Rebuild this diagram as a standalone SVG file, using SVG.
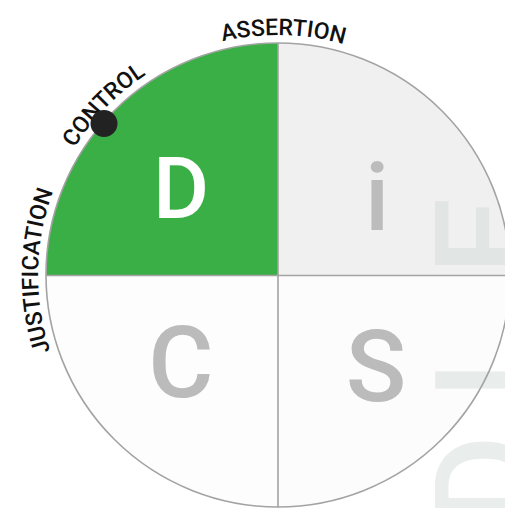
<svg xmlns="http://www.w3.org/2000/svg" width="505" height="508" viewBox="0 0 505 508">
  <style>
    .lbl { font-family: Roboto, "Liberation Sans", sans-serif; font-weight: 500; font-size: 23px; fill: #111; }
    .big { font-family: Roboto, "Liberation Sans", sans-serif; font-weight: 500; text-anchor: middle; }
    .ghost { font-family: Roboto, "Liberation Sans", sans-serif; font-weight: 500; font-size: 138px; fill: #cfd6d3; fill-opacity: 0.45; text-anchor: middle; }
    .rule { stroke: #a3a3a3; stroke-width: 1.6; fill: none; }
  </style>
  <defs>
    <path id="arcAssertion" d="M112.2,101.5 A240,240 0 0 1 451.5,109.2"/>
    <path id="arcControl" d="M38,277.9 A240,240 0 0 1 275.1,35"/>
    <path id="arcJustification" d="M105.4,441.7 A240,240 0 0 1 111.3,102.4"/>
  </defs>
  <rect width="505" height="508" fill="#ffffff"/>

  <g id="quadrants">
    <g id="quadrant-i"><path d="M278,275 L278,43 A232,232 0 0 1 510,275 Z" fill="#f0f0f0"/></g>
    <g id="quadrant-s"><path d="M278,275 L510,275 A232,232 0 0 1 278,507 Z" fill="#fcfcfc"/></g>
    <g id="quadrant-c"><path d="M278,275 L278,507 A232,232 0 0 1 46,275 Z" fill="#fdfdfd"/></g>
    <g id="quadrant-d"><path d="M278,275 L46,275 A232,232 0 0 1 278,43 Z" fill="#3aaf45"/></g>
  </g>

  <g id="ghost-letters">
    <text class="ghost" transform="translate(533,480) rotate(-90)">D</text>
    <text class="ghost" transform="translate(533,380) rotate(-90)">I</text>
    <text class="ghost" transform="translate(533,236) rotate(-90)">E</text>
  </g>

  <g id="connectors">
    <circle class="rule" cx="278" cy="275" r="232"/>
    <line class="rule" x1="278" y1="43" x2="278" y2="507"/>
    <line class="rule" x1="46" y1="275.5" x2="510" y2="275.5"/>
  </g>

  <g id="node-D"><text class="big" x="181" y="218" font-size="86" fill="#ffffff">D</text></g>
  <g id="node-i"><text class="big" x="377" y="230" font-size="95" fill="#bcbcbc">i</text></g>
  <g id="node-C"><text class="big" x="181" y="397" font-size="100" fill="#bbbbbb">C</text></g>
  <g id="node-S"><text class="big" x="376" y="401" font-size="100" fill="#bbbbbb">S</text></g>

  <g id="label-assertion"><text class="lbl"><textPath href="#arcAssertion" startOffset="50%" text-anchor="middle">ASSERTION</textPath></text></g>
  <g id="label-control"><text class="lbl"><textPath href="#arcControl" startOffset="50%" text-anchor="middle">CONTROL</textPath></text></g>
  <g id="label-justification"><text class="lbl"><textPath href="#arcJustification" startOffset="50%" text-anchor="middle">JUSTIFICATION</textPath></text></g>

  <g id="marker-dot"><circle cx="104" cy="123.5" r="13.5" fill="#222222"/></g>
</svg>
